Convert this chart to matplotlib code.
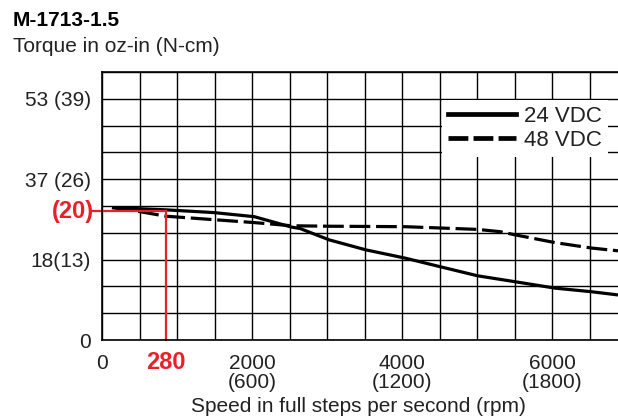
import matplotlib.pyplot as plt
from matplotlib.lines import Line2D
import matplotlib.transforms as mtransforms

plt.rcParams['font.family'] = ['Liberation Sans', 'DejaVu Sans']

# Torque curves (speed in full steps/s, torque in oz-in)
speed_24 = [133, 853, 1490, 2030, 2530, 2640, 3030, 3520, 4040, 4510, 5010, 5510, 6040, 6530, 6880]
torque_24 = [29.1, 28.6, 28.0, 27.1, 24.8, 24.5, 22.0, 19.8, 18.0, 16.1, 14.1, 12.8, 11.4, 10.6, 9.9]
speed_48 = [133, 507, 853, 2030, 2530, 3030, 4040, 5010, 5310, 5510, 6040, 6530, 6880]
torque_48 = [29.1, 28.2, 27.2, 25.8, 25.1, 25.0, 24.9, 24.3, 23.8, 23.1, 21.4, 20.2, 19.6]
series_names = ["24 VDC", "48 VDC"]

# Axis labels
y_tick_text = {0: "0", 3: "18(13)", 6: "37 (26)", 9: "53 (39)"}
x_tick_text = {0: "0", 2000: "2000\n(600)", 4000: "4000\n(1200)", 6000: "6000\n(1800)"}

# Red marker: 280 on the speed axis, (20) N-cm on the torque axis
mark_speed = 850
mark_speed_text = "280"
mark_torque = 28.3
mark_torque_text = "(20)"

W, H = 618, 417
cell_y = 53 / 9  # oz-in per grid row
cell_x = 500
red = "#e8202a"
txt = "#222222"

fig = plt.figure(figsize=(W / 100, H / 100), dpi=100)
ax = fig.add_axes([102 / W, 1 - 340 / H, 1 - 102 / W, (340 - 72) / H])

ax.set_xlim(0, (W - 102) / 150 * 2000)
ax.set_ylim(0, 10 * cell_y)

# Grid
x_grid = [i * cell_x for i in range(14)]
y_grid = [i * cell_y for i in range(11)]
ax.set_xticks(x_grid)
ax.set_yticks(y_grid)
ax.set_xticklabels([x_tick_text.get(v, "") for v in x_grid], fontsize=15, color=txt,
                   linespacing=1.0)
ax.set_yticklabels([y_tick_text.get(i, "") for i in range(11)], fontsize=15, color=txt)
ax.tick_params(length=0, pad=8)
ax.tick_params(axis="x", pad=10)
ax.grid(True, color="black", linewidth=1.0)
for side in ["left", "bottom", "top"]:
    ax.spines[side].set_linewidth(1.2)
ax.spines["right"].set_visible(False)

# Curves
ax.plot(speed_24, torque_24, color="black", linewidth=2.3, solid_capstyle="butt")
ax.plot(speed_48, torque_48, color="black", linewidth=2.3, linestyle=(0, (6.5, 1.8)))

# Red marker lines and labels
ax.plot([mark_speed, mark_speed], [0, mark_torque], color=red, linewidth=1.6, clip_on=False)
ax.plot([-150, mark_speed], [mark_torque, mark_torque], color=red, linewidth=1.6, clip_on=False)
tx = mtransforms.blended_transform_factory(ax.transData, ax.transAxes)
ax.text(mark_speed, -0.04, mark_speed_text, transform=tx, color=red, fontsize=17,
        fontweight="bold", ha="center", va="top")
ty = mtransforms.blended_transform_factory(ax.transAxes, ax.transData)
ax.text(-0.015, mark_torque, mark_torque_text, transform=ty, color=red, fontsize=17,
        fontweight="bold", ha="right", va="center")

# Legend
handles = [Line2D([], [], color="black", linewidth=3.4),
           Line2D([], [], color="black", linewidth=3.4, linestyle=(0, (4.2, 1.1)))]
leg = ax.legend(handles, series_names, loc="upper left", bbox_to_anchor=(0.659, 0.895),
                fontsize=16, frameon=True, fancybox=False, framealpha=1, edgecolor="none",
                borderpad=0.25, borderaxespad=0, handlelength=3.1, handletextpad=0.35,
                labelspacing=0.15, labelcolor=txt)

# Titles
fig.text(13 / W, 1 - 26 / H, "M-1713-1.5", fontsize=15, fontweight="bold", va="baseline")
fig.text(13 / W, 1 - 52 / H, "Torque in oz-in (N-cm)", fontsize=15, color=txt,
         va="baseline")
fig.text(358 / W, 1 - 412 / H, "Speed in full steps per second (rpm)", fontsize=15,
         color=txt, ha="center", va="baseline")

fig.savefig("out.png", dpi=100)
